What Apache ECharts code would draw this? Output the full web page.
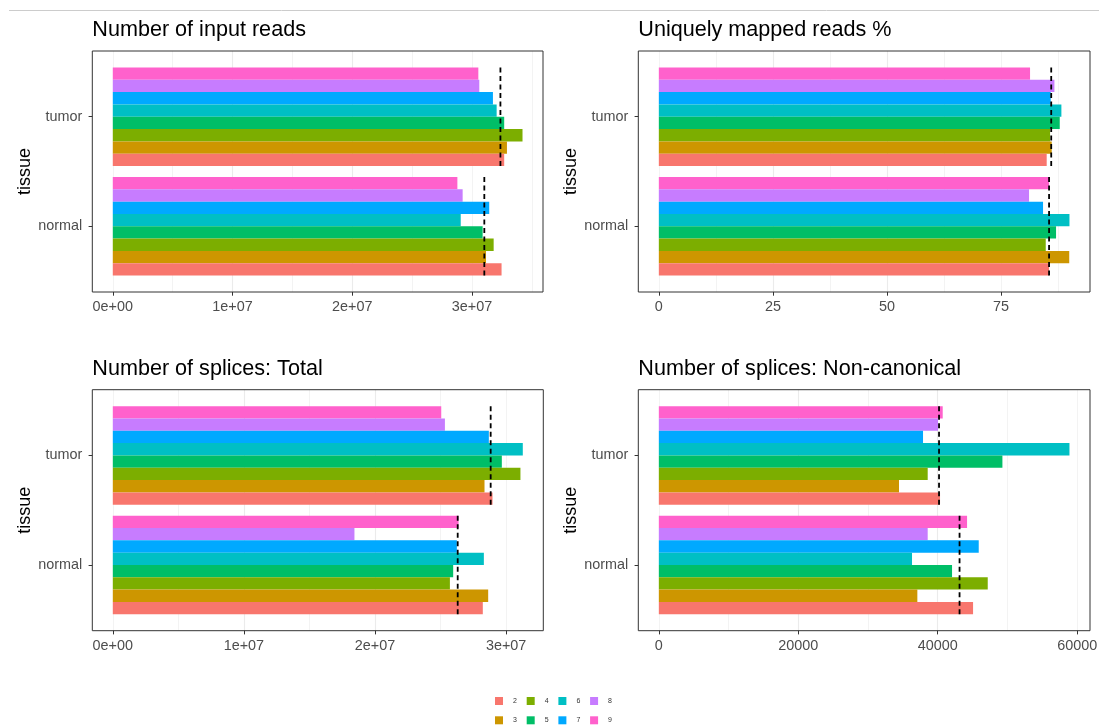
<!DOCTYPE html>
<html>
<head>
<meta charset="utf-8">
<script src="https://cdn.jsdelivr.net/npm/echarts@6/dist/echarts.min.js"></script>
<style>
  html, body { margin: 0; padding: 0; background: #ffffff; }
  #chart { width: 1101px; height: 727px; }
</style>
</head>
<body>
<div id="chart"></div>
<script>
// Sample groups and tissues
const groups = ['2', '3', '4', '5', '6', '7', '8', '9'];
const tissues = ['normal', 'tumor'];
const groupColors = ['#F8766D', '#CD9600', '#7CAE00', '#00BE67', '#00BFC4', '#00A9FF', '#C77CFF', '#FF61CC'];

// Values per group (order 2..9)
const inputReadsNormal = [32470000, 31170000, 31810000, 30890000, 29060000, 31440000, 29220000, 28780000];
const inputReadsTumor  = [32690000, 32920000, 34220000, 32690000, 32060000, 31750000, 30610000, 30530000];

const uniqueMappedNormal = [85.53, 89.95, 84.80, 87.06, 90.0, 84.21, 81.14, 85.53];
const uniqueMappedTumor  = [85.01, 86.11, 85.75, 87.87, 88.23, 85.89, 86.70, 81.36];

const splicesTotalNormal = [28220000, 28630000, 25710000, 25960000, 28300000, 26240000, 18430000, 26370000];
const splicesTotalTumor  = [28960000, 28350000, 31090000, 29670000, 31270000, 28680000, 25330000, 25050000];

const splicesNonCanonNormal = [45072, 37081, 47177, 42057, 36316, 45885, 38565, 44211];
const splicesNonCanonTumor  = [40335, 34450, 38565, 49282, 58900, 37895, 40048, 40718];

// Axis ticks and their labels
const ticksInputReads = [0, 10000000, 20000000, 30000000];
const labelsInputReads = ['0e+00', '1e+07', '2e+07', '3e+07'];
const ticksUniqueMapped = [0, 25, 50, 75];
const labelsUniqueMapped = ['0', '25', '50', '75'];
const ticksSplicesTotal = [0, 10000000, 20000000, 30000000];
const labelsSplicesTotal = ['0e+00', '1e+07', '2e+07', '3e+07'];
const ticksNonCanon = [0, 20000, 40000, 60000];
const labelsNonCanon = ['0', '20000', '40000', '60000'];

const panelTitles = ['Number of input reads', 'Uniquely mapped reads %', 'Number of splices: Total', 'Number of splices: Non-canonical'];

const panels = [
  { title: panelTitles[0], normal: inputReadsNormal, tumor: inputReadsTumor, ticks: ticksInputReads, labels: labelsInputReads },
  { title: panelTitles[1], normal: uniqueMappedNormal, tumor: uniqueMappedTumor, ticks: ticksUniqueMapped, labels: labelsUniqueMapped },
  { title: panelTitles[2], normal: splicesTotalNormal, tumor: splicesTotalTumor, ticks: ticksSplicesTotal, labels: labelsSplicesTotal },
  { title: panelTitles[3], normal: splicesNonCanonNormal, tumor: splicesNonCanonTumor, ticks: ticksNonCanon, labels: labelsNonCanon }
];

// Panel frames (pixels)
const PANEL_H = 241;
const boxes = [
  { left: 92.3, top: 51, width: 450.7 },
  { left: 638.3, top: 51, width: 451.7 },
  { left: 92.3, top: 389.7, width: 451 },
  { left: 638.3, top: 389.7, width: 451.7 }
];

const FONT = "'Liberation Sans', Arial, Helvetica, sans-serif";

function median(arr) {
  const s = arr.slice().sort((a, b) => a - b);
  const m = Math.floor(s.length / 2);
  return s.length % 2 ? s[m] : (s[m - 1] + s[m]) / 2;
}

const outerGrids = [], innerGrids = [], xAxes = [], yAxes = [], series = [], titles = [];

panels.forEach((p, i) => {
  const box = boxes[i];
  const hi = Math.max(...p.normal, ...p.tumor);
  const pad = 0.05 * hi;                 // 5% expansion around [0, max]
  const xmin = -pad, xmax = hi + pad;
  const step = p.ticks[1] - p.ticks[0];
  const unit = PANEL_H / 2.2;            // one discrete step with 0.6 padding each side

  outerGrids.push({
    show: true, z: 10, left: box.left, top: box.top, width: box.width, height: PANEL_H,
    backgroundColor: 'transparent', borderColor: '#333333', borderWidth: 1
  });
  innerGrids.push({
    left: box.left, top: box.top + unit * 0.1, width: box.width, height: unit * 2
  });

  // major x axis with labels, ticks and grid lines
  xAxes.push({
    type: 'value', gridIndex: i, min: xmin, max: xmax, minInterval: step, maxInterval: step,
    axisLine: { show: false, onZero: false },
    axisTick: { show: true, customValues: p.ticks, length: 3.7, lineStyle: { color: '#333333', width: 1 } },
    axisLabel: {
      customValues: p.ticks, margin: 8.5, fontSize: 14.4, color: '#4D4D4D', fontFamily: FONT,
      formatter: v => { const k = p.ticks.indexOf(v); return k >= 0 ? p.labels[k] : ''; }
    },
    splitLine: { show: true, showMinLine: false, showMaxLine: false, lineStyle: { color: '#EBEBEB', width: 1.1 } },
    z: 1
  });
  // minor x grid lines
  xAxes.push({
    type: 'value', gridIndex: i, min: xmin, max: xmax, minInterval: step / 2, maxInterval: step / 2,
    axisLine: { show: false, onZero: false }, axisTick: { show: false }, axisLabel: { show: false },
    splitLine: { show: true, showMinLine: false, showMaxLine: false, lineStyle: { color: '#EBEBEB', width: 0.6 } },
    z: 0
  });
  // x axis for bars
  xAxes.push({ type: 'value', gridIndex: 4 + i, min: xmin, max: xmax, show: false });

  // tissue axis (discrete positions 1 and 2)
  yAxes.push({
    type: 'value', gridIndex: i, min: 0.4, max: 2.6, minInterval: 1, maxInterval: 1,
    axisLine: { show: false, onZero: false },
    axisTick: { show: true, customValues: [1, 2], length: 3.7, lineStyle: { color: '#333333', width: 1 } },
    axisLabel: {
      customValues: [1, 2], margin: 10, fontSize: 14.4, color: '#4D4D4D', fontFamily: FONT,
      formatter: v => tissues[Math.round(v) - 1] || ''
    },
    splitLine: { show: true, showMinLine: false, showMaxLine: false, lineStyle: { color: '#EBEBEB', width: 1.1 } },
    name: 'tissue', nameLocation: 'middle', nameGap: 57,
    nameTextStyle: { fontSize: 18, color: '#000000', fontFamily: FONT }
  });
  yAxes.push({ type: 'category', gridIndex: 4 + i, data: tissues, show: false });

  // bars: listed from last group so that group '2' sits at the bottom of each dodge
  for (let g = groups.length - 1; g >= 0; g--) {
    series.push({
      type: 'bar', name: groups[g], xAxisIndex: 3 * i + 2, yAxisIndex: 2 * i + 1,
      barGap: '0%', barCategoryGap: '10%', silent: true, z: 2,
      itemStyle: { color: groupColors[g] },
      data: [p.normal[g], p.tumor[g]]
    });
  }

  // dashed median marker spanning each dodge group
  series.push({
    type: 'custom', xAxisIndex: 3 * i + 2, yAxisIndex: 2 * i + 1, silent: true, z: 5,
    data: [[median(p.normal), 0], [median(p.tumor), 1]],
    renderItem: (params, api) => {
      const c = api.coord([api.value(0), api.value(1)]);
      const half = api.size([0, 1])[1] * 0.45;
      return {
        type: 'line',
        shape: { x1: c[0], y1: c[1] - half, x2: c[0], y2: c[1] + half },
        style: { stroke: '#000000', lineWidth: 1.8, lineDash: [5, 3.5] }
      };
    }
  });

  titles.push({
    text: p.title, left: box.left, top: box.top - 31.5, padding: 0,
    textStyle: { fontSize: 21.6, fontWeight: 'normal', color: '#000000', fontFamily: FONT }
  });
});

const legendCommon = {
  orient: 'horizontal', icon: 'rect', itemWidth: 8, itemHeight: 8, itemGap: 9.8, padding: 0,
  selectedMode: false,
  textStyle: { fontSize: 7, color: '#333333', fontFamily: FONT, padding: [0, 0, 0, 5] }
};

const option = {
  animation: false,
  backgroundColor: '#ffffff',
  title: titles,
  grid: outerGrids.concat(innerGrids),
  xAxis: xAxes,
  yAxis: yAxes,
  series: series,
  legend: [
    Object.assign({ data: ['2', '4', '6', '8'], left: 495, top: 697 }, legendCommon),
    Object.assign({ data: ['3', '5', '7', '9'], left: 495, top: 716.3 }, legendCommon)
  ],
  graphic: [{
    type: 'line', shape: { x1: 9, y1: 10.5, x2: 1099, y2: 10.5 },
    style: { stroke: '#CCCCCC', lineWidth: 1 }, silent: true
  }]
};

const chart = echarts.init(document.getElementById('chart'), null, { renderer: 'canvas' });
chart.setOption(option);
</script>
</body>
</html>
